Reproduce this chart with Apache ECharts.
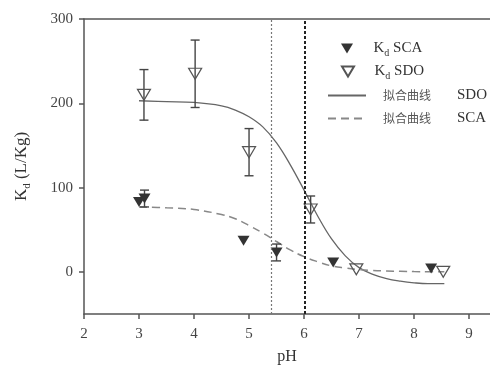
<!DOCTYPE html>
<html><head><meta charset="utf-8">
<script src="https://cdn.jsdelivr.net/npm/echarts@6/dist/echarts.min.js"></script>
<style>html,body{margin:0;padding:0;background:#fff}#c{width:490px;height:367px}</style>
</head><body><div id="c"></div>
<script>
// Measured data (Kd SCA, filled triangles)
const scaPH = [3.0, 3.1, 4.9, 5.5, 6.53, 8.31];
const scaKd = [83, 87, 37, 23, 11, 4];
const scaErr = [0, 10, 0, 10, 0, 0];
// Measured data (Kd SDO, open triangles)
const sdoPH = [3.09, 4.02, 5.0, 6.12, 6.95, 8.53];
const sdoKd = [210, 235, 142, 74, 3, 0];
const sdoErr = [30, 40, 28, 16, 0, 0];
// Fitted curves
const fitPH  = [3.0, 3.5, 4.0, 4.5, 4.75, 5.0, 5.25, 5.5, 5.75, 6.0, 6.25, 6.5, 6.75, 7.0, 7.25, 7.5, 7.75, 8.0, 8.25, 8.55];
const fitSDO = [203, 202, 201, 197, 192, 184, 172, 153, 127, 97, 66, 39, 19, 5, -3, -8, -11, -13, -14, -14];
const fitSCA = [77, 76, 74, 68, 63, 55, 46, 36, 26, 18, 12, 7, 4.5, 2.7, 1.6, 1.0, 0.6, 0.3, 0.2, 0.1];
// Vertical reference lines
const refLines = [5.4, 6.02];
const xTicks = [2, 3, 4, 5, 6, 7, 8, 9];
const yTicks = [0, 100, 200, 300];

const serif = 'Liberation Serif';
const down = 'path://M0,0L12,0L6,10Z';
const zip = (a, b) => a.map((v, i) => [v, b[i]]);
const errData = (xs, ys, es) => xs.map((x, i) => es[i] ? [x, ys[i] - es[i], ys[i] + es[i]] : null).filter(Boolean);

const errRender = (params, api) => {
  const x = api.value(0), lo = api.value(1), hi = api.value(2);
  const a = api.coord([x, hi]), b = api.coord([x, lo]);
  const w = 4.5;
  const st = { stroke: '#444', lineWidth: 1.4 };
  return { type: 'group', children: [
    { type: 'line', shape: { x1: a[0], y1: a[1], x2: b[0], y2: b[1] }, style: st },
    { type: 'line', shape: { x1: a[0] - w, y1: a[1], x2: a[0] + w, y2: a[1] }, style: st },
    { type: 'line', shape: { x1: b[0] - w, y1: b[1], x2: b[0] + w, y2: b[1] }, style: st }
  ]};
};

const rich = {
  k0: { fontFamily: serif, fontSize: 15, color: '#333', lineHeight: 20, verticalAlign: 'middle', padding: [0, 0, 0, 8] },
  k: { fontFamily: serif, fontSize: 15, color: '#333', lineHeight: 20, verticalAlign: 'middle' },
  d: { fontFamily: serif, fontSize: 10, color: '#333', lineHeight: 20, verticalAlign: 'bottom' },
  c: { fontFamily: 'Noto Sans CJK SC', fontSize: 12, color: '#555', lineHeight: 20, padding: [0, 0, 0, 12] },
  s: { fontFamily: serif, fontSize: 15, color: '#333', lineHeight: 20, padding: [0, 0, 0, 26] }
};
const fmt = name => {
  if (name.startsWith('Kd')) return '{k0|K}{d|d}{k| ' + name.slice(3) + '}';
  const p = name.split(' ');
  return '{c|' + p[0] + '}{s|' + p[1] + '}';
};
const legendRow = (name, left, top, w, isLine) => {
  const l = {
    data: [name], left: left, top: top, orient: 'vertical', itemWidth: w, itemHeight: 10,
    padding: 0, selectedMode: false, formatter: fmt, textStyle: { rich: rich }
  };
  if (isLine) l.itemStyle = { color: 'rgba(0,0,0,0)', borderWidth: 0, opacity: 0 };
  return l;
};

const axisCommon = {
  type: 'value', min: 2, max: 9.38, interval: 1, splitLine: { show: false }
};

const chart = echarts.init(document.getElementById('c'), null, { renderer: 'canvas' });
chart.setOption({
  animation: false,
  backgroundColor: '#fff',
  grid: { left: 84, top: 19, right: 0, bottom: 53, containLabel: false, outerBoundsMode: 'none' },
  legend: [
    legendRow('Kd SCA', 341, 41, 27, false),
    legendRow('Kd SDO', 341, 64, 27, false),
    legendRow('拟合曲线 SDO', 327, 88, 38, true),
    legendRow('拟合曲线 SCA', 327, 111, 38, true)
  ],
  xAxis: [Object.assign({}, axisCommon, {
    name: 'pH', nameLocation: 'middle', nameGap: 35,
    nameTextStyle: { fontFamily: serif, fontSize: 16, color: '#333' },
    axisLine: { onZero: false, lineStyle: { color: '#555', width: 1.5 } },
    axisTick: { length: 5, lineStyle: { color: '#555', width: 1.5 }, customValues: xTicks },
    axisLabel: { fontFamily: serif, fontSize: 15, color: '#444', margin: 13, customValues: xTicks }
  }), Object.assign({}, axisCommon, {
    position: 'top',
    axisLine: { show: true, onZero: false, lineStyle: { color: '#555', width: 1.5 } },
    axisTick: { show: false }, axisLabel: { show: false }
  })],
  yAxis: {
    type: 'value', min: -50, max: 300,
    name: '{k|K}{d|d}{k| (L/Kg)}', nameLocation: 'middle', nameGap: 51, nameRotate: 90,
    nameTextStyle: { rich: {
      k: { fontFamily: serif, fontSize: 17, color: '#333', lineHeight: 22, verticalAlign: 'middle' },
      d: { fontFamily: serif, fontSize: 11, color: '#333', lineHeight: 22, verticalAlign: 'bottom' }
    } },
    splitLine: { show: false },
    axisLine: { onZero: false, lineStyle: { color: '#555', width: 1.5 } },
    axisTick: { length: 5, lineStyle: { color: '#555', width: 1.5 }, customValues: yTicks },
    axisLabel: { fontFamily: serif, fontSize: 15, color: '#444', margin: 11, customValues: yTicks }
  },
  series: [
    { name: 'SDO err', type: 'custom', renderItem: errRender, encode: { x: 0, y: [1, 2] },
      data: errData(sdoPH, sdoKd, sdoErr), z: 3, silent: true },
    { name: 'SCA err', type: 'custom', renderItem: errRender, encode: { x: 0, y: [1, 2] },
      data: errData(scaPH, scaKd, scaErr), z: 3, silent: true },
    { name: '拟合曲线 SDO', type: 'line', data: zip(fitPH, fitSDO), smooth: 0.4, symbol: 'none',
      lineStyle: { color: '#666', width: 1.3, type: 'solid' }, itemStyle: { color: '#666' }, z: 2,
      markLine: { silent: true, symbol: 'none', label: { show: false },
        data: [
          { xAxis: refLines[0], lineStyle: { color: '#777', width: 1.2, type: [2, 2] } },
          { xAxis: refLines[1], lineStyle: { color: '#222', width: 2, type: [3, 2] } }
        ] } },
    { name: '拟合曲线 SCA', type: 'line', data: zip(fitPH, fitSCA), smooth: 0.4, symbol: 'none',
      lineStyle: { color: '#888', width: 1.5, type: [8, 5] }, itemStyle: { color: '#888' }, z: 2 },
    { name: 'Kd SCA', type: 'scatter', data: zip(scaPH, scaKd), symbol: down, symbolSize: [12, 10],
      itemStyle: { color: '#333', opacity: 1 }, z: 4 },
    { name: 'Kd SDO', type: 'scatter', data: zip(sdoPH, sdoKd), symbol: down, symbolSize: [13, 11],
      itemStyle: { color: 'rgba(255,255,255,0)', borderColor: '#555', borderWidth: 1.2, opacity: 1 }, z: 4 }
  ]
});
</script></body></html>
